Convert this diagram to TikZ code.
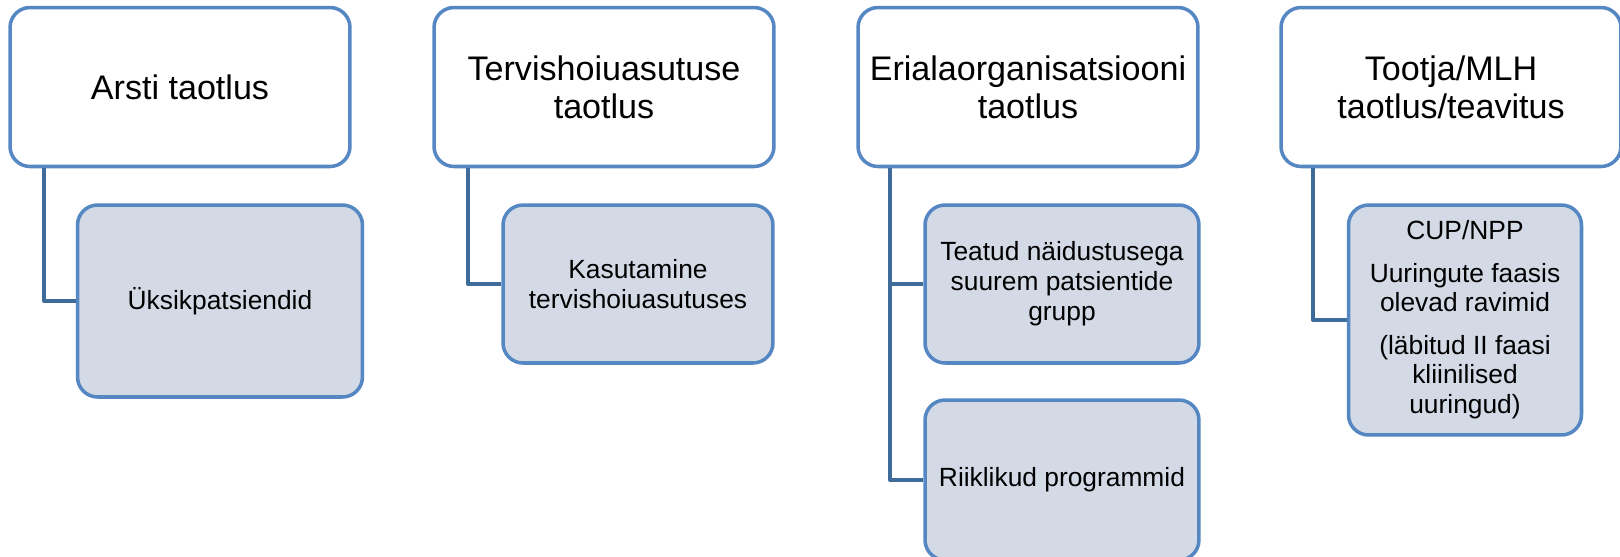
\documentclass[tikz,border=0pt]{standalone}
\usepackage{fontspec}
\setmainfont{Liberation Sans}
\definecolor{boxblue}{HTML}{5587C2}
\definecolor{linkblue}{HTML}{3F6B9B}
\definecolor{subfill}{HTML}{D3DAE6}

\begin{document}
\begin{tikzpicture}[line cap=round,line join=round,x=0.02cm,y=-0.02cm,
    topbox/.style={draw=boxblue,line width=2pt,rounded corners=0.4cm,fill=white,
      minimum width=6.8cm,minimum height=3.18cm,inner sep=0pt,align=center,
      font=\fontsize{19.4}{21.5}\selectfont},
    subbox/.style={draw=boxblue,line width=2pt,rounded corners=0.4cm,fill=subfill,
      inner sep=0pt,align=center,font=\fontsize{15}{17}\selectfont},
    link/.style={draw=linkblue,line width=2.3pt,line cap=butt}]
            \useasboundingbox (0,0) rectangle (1620,556);

            % top row
            \node [topbox] (arsti) at (180,87) {Arsti taotlus};
            \node [topbox] (tervis) at (604,87) {Tervishoiuasutuse\\taotlus};
            \node [topbox] (eriala) at (1028,87) {Erialaorganisatsiooni\\taotlus};
            \node [topbox] (tootja) at (1451,87) {Tootja/MLH\\taotlus/teavitus};

            % second row
            \node [subbox,minimum width=5.7cm,minimum height=3.84cm] (yksik) at (220,301) {Üksikpatsiendid};
            \node [subbox,minimum width=5.4cm,minimum height=3.16cm] (kasut) at (638,284) {Kasutamine\\tervishoiuasutuses};
            \node [subbox,minimum width=5.48cm,minimum height=3.16cm] (teatud) at (1062,284) {Teatud näidustusega\\suurem patsientide\\grupp};
            \node [subbox,minimum width=5.48cm,minimum height=3.2cm] (riik) at (1062,480) {Riiklikud programmid};
            \node [subbox,minimum width=4.66cm,minimum height=4.6cm] (cup) at (1465,320)
              {CUP/NPP\\[7pt]Uuringute faasis\\olevad ravimid\\[7pt](läbitud II faasi\\kliinilised\\uuringud)};

            % connectors
            \coordinate (astem) at ([xshift=0.72cm]arsti.south west);
            \coordinate (tstem) at ([xshift=0.72cm]tervis.south west);
            \coordinate (estem) at ([xshift=0.68cm]eriala.south west);
            \coordinate (pstem) at ([xshift=0.68cm]tootja.south west);
            \draw [link] (astem) |- (yksik.west);
            \draw [link] (tstem) |- (kasut.west);
            \draw [link] (estem) |- (riik.west);
            \draw [link] (estem |- teatud.west) -- (teatud.west);
            \draw [link] (pstem) |- (cup.west);
\end{tikzpicture}
\end{document}
